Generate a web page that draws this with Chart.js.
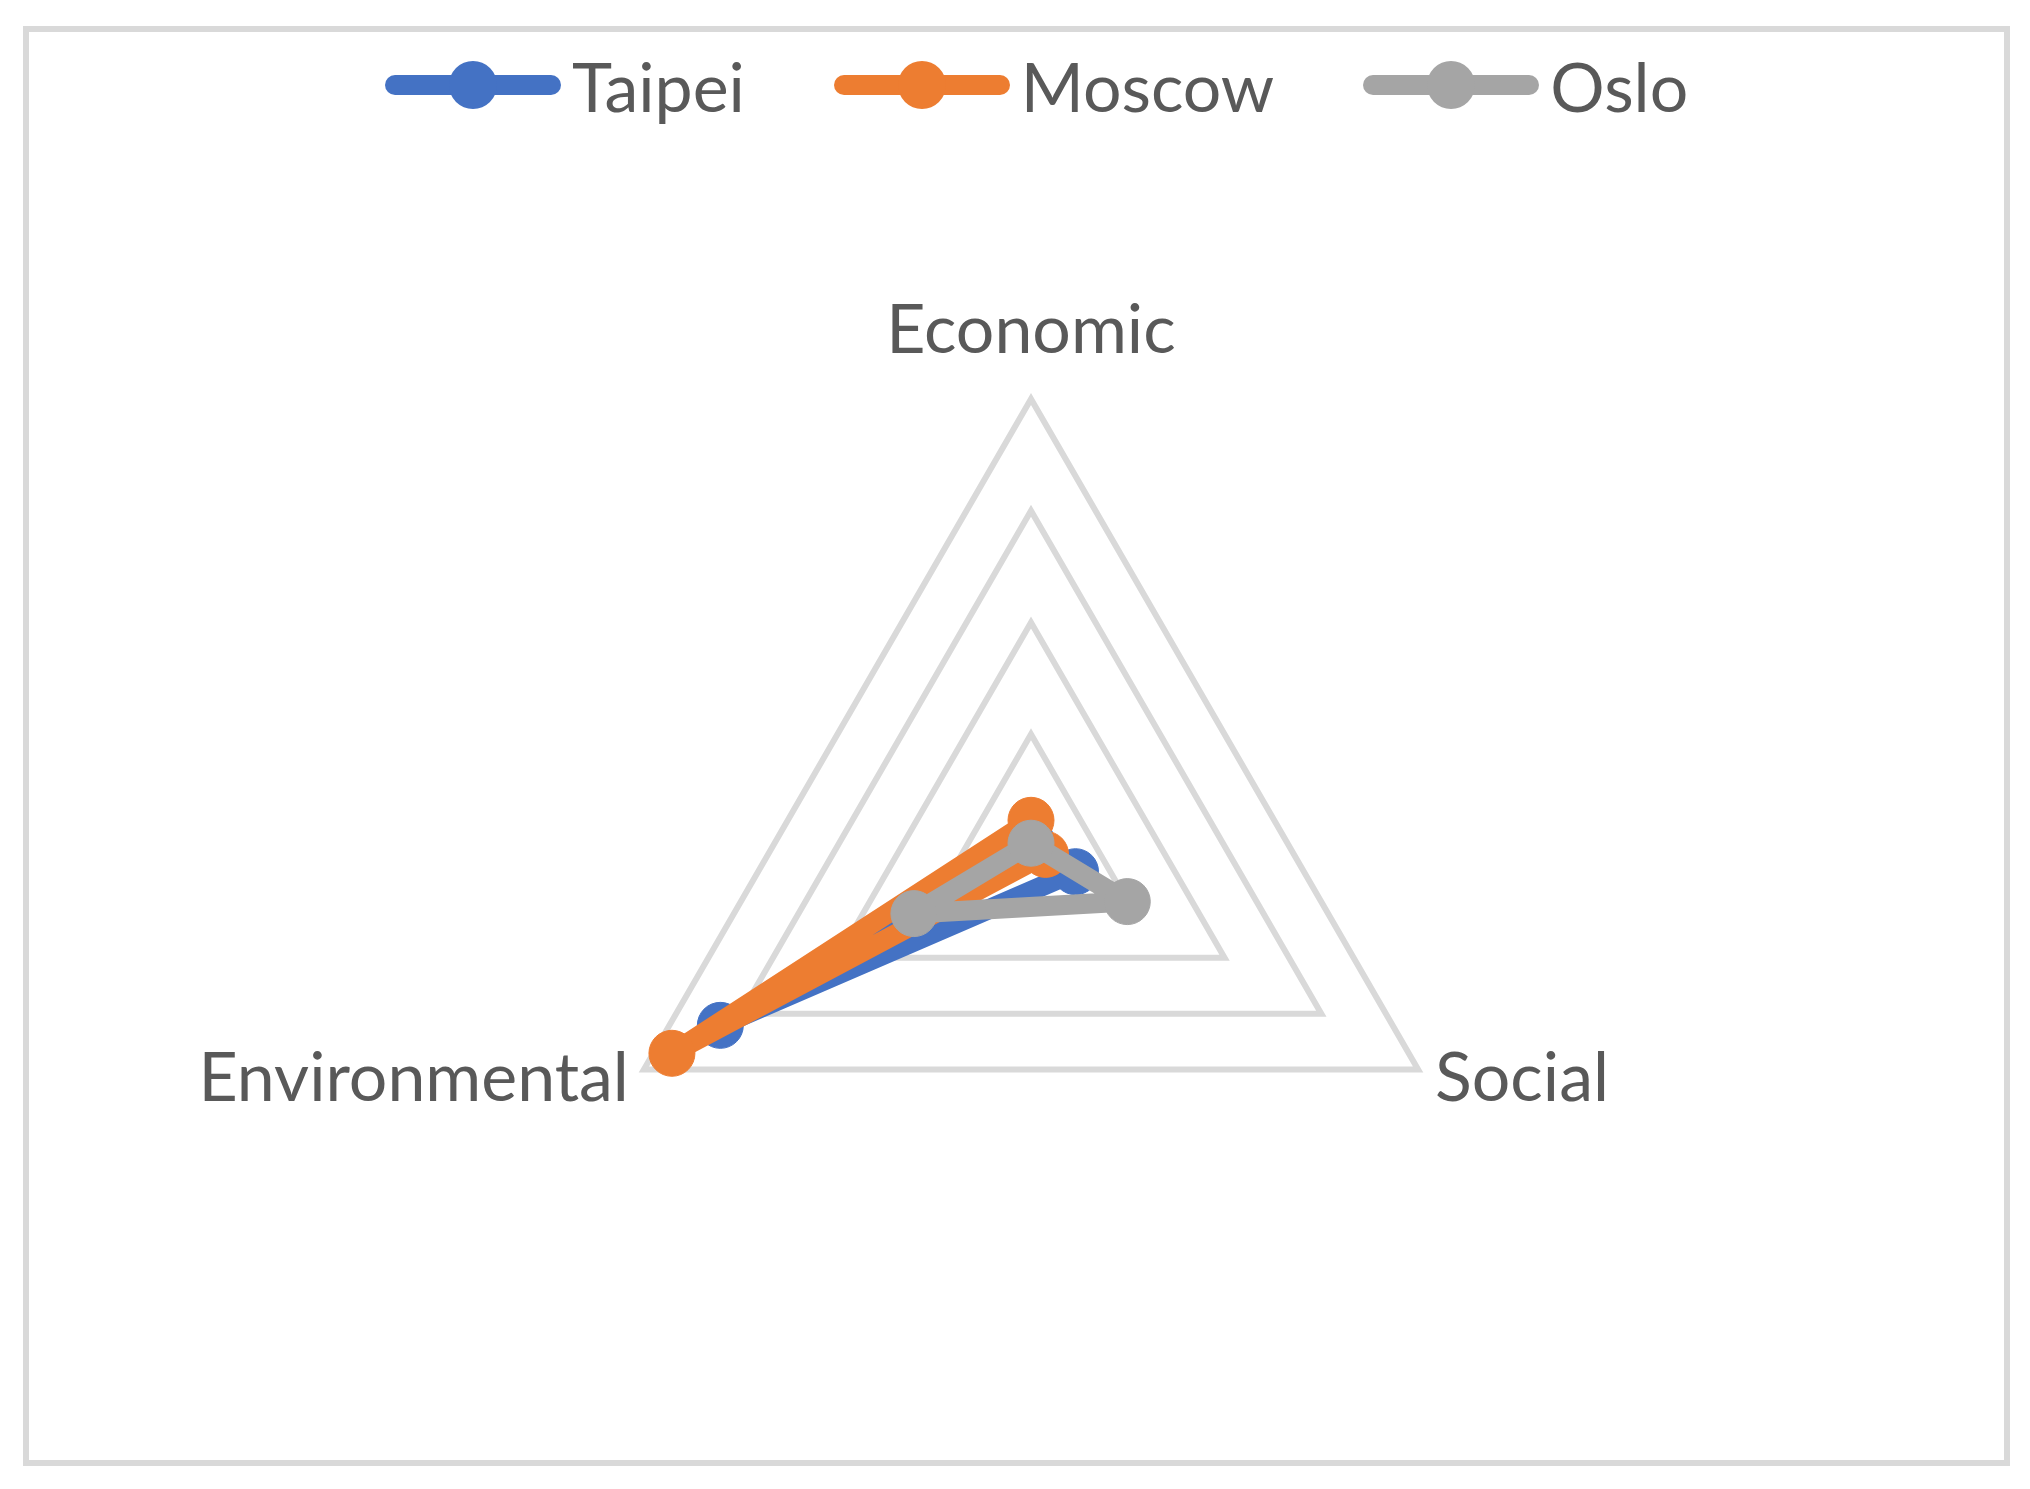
<!DOCTYPE html>
<html>
<head>
<meta charset="utf-8">
<title>Sustainability radar</title>
<script src="https://cdn.jsdelivr.net/npm/chart.js@4.4.1/dist/chart.umd.min.js"></script>
<style>
  html, body { margin: 0; padding: 0; background: #fff; }
  #frame {
    position: absolute; left: 23px; top: 26px;
    width: 1975px; height: 1428px;
    border: 6px solid #d9d9d9; background: #fff;
  }
  #chart { position: absolute; left: 0; top: 0; }
  #legend {
    position: absolute; left: 354px; top: 13px; height: 80px;
    display: flex; align-items: center;
    font-family: Lato, "Open Sans", sans-serif; font-size: 68px; color: #595959;
  }
  .item { display: flex; align-items: center; margin-right: 87px; }
  .item canvas { margin-right: 9px; }
</style>
</head>
<body>
<div id="frame">
  <canvas id="chart"></canvas>
  <div id="legend"></div>
</div>
<script>
// axis categories and series values (scale 0 - 0.8)
const categories = ["Economic", "Social", "Environmental"];
const taipei = [0.010, 0.092, 0.642];
const moscow = [0.046, 0.030, 0.742];
const oslo   = [0.005, 0.199, 0.242];
const seriesNames = ["Taipei", "Moscow", "Oslo"];
const seriesColors = ["#4472C4", "#ED7D31", "#A5A5A5"];
const ringStep = 0.2;
const ringMax = 0.8;

const textColor = "#595959";
const fontFamily = "Lato, 'Open Sans', sans-serif";

// axis labels drawn from the scale's own vertex positions
const axisLabels = {
  id: "axisLabels",
  afterDraw(chart) {
    const scale = chart.scales.r;
    const ctx = chart.ctx;
    ctx.save();
    ctx.font = "68px " + fontFamily;
    ctx.fillStyle = textColor;
    ctx.textBaseline = "alphabetic";
    chart.data.labels.forEach((label, i) => {
      const p = scale.getPointPosition(i, scale.drawingArea);
      if (i === 0) {
        ctx.textAlign = "center";
        ctx.fillText(label, p.x, p.y - 46);
      } else if (i === 1) {
        ctx.textAlign = "left";
        ctx.fillText(label, p.x + 17, p.y + 31);
      } else {
        ctx.textAlign = "right";
        ctx.fillText(label, p.x - 15, p.y + 31);
      }
    });
    ctx.restore();
  }
};

function buildLegend(chart) {
  const box = document.getElementById("legend");
  box.innerHTML = "";
  chart.data.datasets.forEach(ds => {
    const item = document.createElement("div");
    item.className = "item";
    const sw = document.createElement("canvas");
    sw.width = 180; sw.height = 50;
    const c = sw.getContext("2d");
    c.strokeStyle = ds.borderColor;
    c.lineWidth = 20;
    c.lineCap = "round";
    c.beginPath(); c.moveTo(12, 25); c.lineTo(168, 25); c.stroke();
    c.fillStyle = ds.pointBackgroundColor;
    c.beginPath(); c.arc(90, 25, 24, 0, Math.PI * 2); c.fill();
    const txt = document.createElement("span");
    txt.textContent = ds.label;
    item.appendChild(sw);
    item.appendChild(txt);
    box.appendChild(item);
  });
}

function makeDataset(label, data, color, order) {
  return {
    label, data, order,
    borderColor: color,
    backgroundColor: color,
    pointBackgroundColor: color,
    pointBorderColor: color,
    borderWidth: 20,
    pointRadius: 23,
    pointBorderWidth: 1,
    pointHoverRadius: 23,
    borderJoinStyle: "round",
    borderCapStyle: "round",
    fill: false,
    tension: 0,
    clip: false
  };
}

function draw() {
  const canvas = document.getElementById("chart");
  canvas.style.width = "1975px";
  canvas.style.height = "1428px";
  const chart = new Chart(canvas, {
    type: "radar",
    data: {
      labels: categories,
      datasets: [
        makeDataset(seriesNames[0], taipei, seriesColors[0], 3),
        makeDataset(seriesNames[1], moscow, seriesColors[1], 2),
        makeDataset(seriesNames[2], oslo, seriesColors[2], 1)
      ]
    },
    options: {
      responsive: false,
      maintainAspectRatio: false,
      animation: false,
      layout: { padding: { left: 555, right: 526, top: 367, bottom: 167 } },
      plugins: { legend: { display: false }, tooltip: { enabled: false } },
      scales: {
        r: {
          min: 0, max: ringMax,
          ticks: { display: false, stepSize: ringStep },
          pointLabels: { display: false },
          angleLines: { display: false },
          grid: { color: "#d9d9d9", lineWidth: 6, circular: false }
        }
      }
    },
    plugins: [axisLabels]
  });
  buildLegend(chart);
}

canvas_ready();
function canvas_ready() {
  const c = document.getElementById("chart");
  c.width = 1975; c.height = 1428;
  if (document.fonts && document.fonts.load) {
    document.fonts.load("68px Lato").then(draw, draw);
  } else {
    draw();
  }
}
</script>
</body>
</html>
